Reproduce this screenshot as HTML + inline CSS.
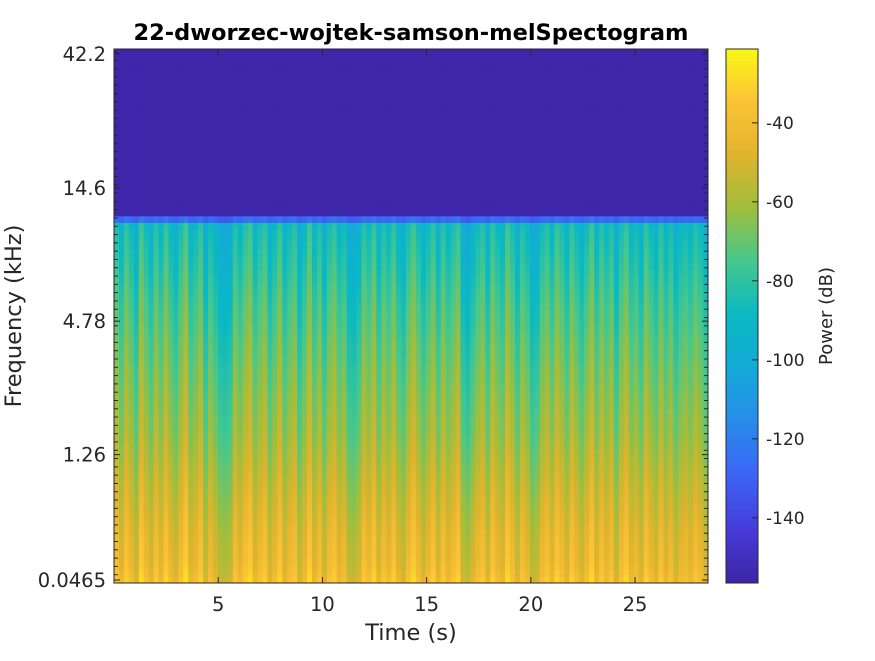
<!DOCTYPE html>
<html><head><meta charset="utf-8"><style>
body{margin:0;background:#fff;width:875px;height:656px;overflow:hidden;font-family:"Liberation Sans","DejaVu Sans",sans-serif}
svg text{font-family:"DejaVu Sans","Liberation Sans",sans-serif;fill:#262626}
</style></head><body>
<svg id="chart" width="875" height="656" viewBox="0 0 875 656" xmlns="http://www.w3.org/2000/svg">
<rect width="875" height="656" fill="#fff"/>
<text x="411" y="40" text-anchor="middle" font-size="22.5" font-weight="bold" style="fill:#000">22-dworzec-wojtek-samson-melSpectogram</text>
<g id="heat"></g>
<g id="cbar"></g>
<g id="axes"></g>
<text x="411" y="640" text-anchor="middle" font-size="22.5">Time (s)</text>
<text transform="translate(21,316) rotate(-90)" text-anchor="middle" font-size="22.5">Frequency (kHz)</text>
<text transform="translate(832,316) rotate(-90)" text-anchor="middle" font-size="18">Power (dB)</text>
</svg>
<script>
// ---- data ----
const timeRange = [0, 28.5];
const xTicks = [5, 10, 15, 20, 25];
const yTickKHz = [0.0465, 1.26, 4.78, 14.6, 42.2];
const yTickLabels = ["0.0465", "1.26", "4.78", "14.6", "42.2"];
const cTicks = [-40, -60, -80, -100, -120, -140];
const cRange = [-156.5, -21.3];
const melRange = [46.5, 4681];
// band mean power (dB), bottom to top, 80 mel bands
const bandPower = [-41,-43,-45,-46,-47,-47,-48,-49,-50,-51,-52,-53,-54,-55,-56,-57,-58,-59,-60,-61,
-62,-63,-64,-65,-65,-66,-67,-67,-68,-69,-70,-70,-71,-72,-73,-73,-74,-75,-76,-77,
-77,-78,-79,-80,-81,-82,-83,-84,-85,-86,-87,-88,-89,-91,-128,-156,-156,-156,-156,-156,
-156,-156,-156,-156,-156,-156,-156,-156,-156,-156,-156,-156,-156,-156,-156,-156,-156,-156,-156,-156];
// per-frame loudness offset (dB), 120 frames
const frameOffset = [4,-2,6,1,-5,8,2,-3,5,-1,7,0,-4,3,9,-2,1,6,-6,2,-3,-8,-9,-7,4,-1,5,8,-2,3,
6,-4,1,7,-3,2,5,-6,0,8,-2,4,-5,3,6,-1,2,-7,-8,-4,5,1,7,-3,4,0,6,-2,-5,3,
8,2,-4,1,6,-3,5,-1,3,7,-6,-9,-3,2,5,-4,6,1,-2,8,3,-5,4,0,-8,-6,2,5,-1,7,
3,-3,6,1,-4,2,8,-2,5,0,4,-6,3,7,-1,2,-4,6,1,-3,5,-2,3,-5,0,2,-1,4,1,-4];
// ---- scales ----
const P={x0:114,x1:708,y0:49,y1:583};
const NS="http://www.w3.org/2000/svg";
const xs=t=>P.x0+(t-timeRange[0])/(timeRange[1]-timeRange[0])*(P.x1-P.x0);
const mel=k=>2595*Math.log10(1+k*1000/700);
const ys=m=>P.y1-(m-melRange[0])/(melRange[1]-melRange[0])*(P.y1-P.y0);
const cy=v=>583-(v-cRange[0])/(cRange[1]-cRange[0])*534;
const parula=[[62,38,168],[70,60,220],[60,100,245],[40,140,235],[20,170,215],[10,185,195],[70,200,140],[160,190,60],[225,180,45],[252,195,55],[249,250,20]];
function col(v){let t=(v-cRange[0])/(cRange[1]-cRange[0]);t=Math.max(0,Math.min(1,t))*10;const i=Math.min(9,Math.floor(t)),f=t-i;const a=parula[i],b=parula[i+1];return `rgb(${a.map((c,k)=>Math.round(c+(b[k]-c)*f)).join(',')})`;}
function el(tag,attrs,parent){const e=document.createElementNS(NS,tag);for(const k in attrs)e.setAttribute(k,attrs[k]);parent.appendChild(e);return e;}
// ---- heatmap ----
const heat=document.getElementById('heat');
const nb=bandPower.length,nf=frameOffset.length;
const dm=(melRange[1]-melRange[0])/nb, dt=(timeRange[1]-timeRange[0])/nf;
for(let b=0;b<nb;b++){
  const ya=ys(melRange[0]+(b+1)*dm), yb=ys(melRange[0]+b*dm);
  for(let f=0;f<nf;f++){
    let v=bandPower[b];
    if(v>-150) v+=frameOffset[f]*(b>53?0.6:1.5);
    const xa=xs(timeRange[0]+f*dt), xb=xs(timeRange[0]+(f+1)*dt);
    const r=el('rect',{x:xa.toFixed(2),y:ya.toFixed(2),width:(xb-xa+0.4).toFixed(2),height:(yb-ya+0.4).toFixed(2),fill:col(v)},heat);
    
    
  }
}
// ---- colorbar ----
const cb=document.getElementById('cbar');
for(let i=0;i<134;i++){const v=cRange[0]+(cRange[1]-cRange[0])*i/134;el('rect',{x:726,y:(cy(v)-4.2).toFixed(2),width:32,height:4.4,fill:col(v)},cb);}
el('rect',{x:726,y:49,width:32,height:534,fill:'none',stroke:'#262626','stroke-width':1},cb);
cTicks.forEach(v=>{const y=cy(v);el('line',{x1:752,x2:758,y1:y,y2:y,stroke:'#262626'},cb);
 const t=el('text',{x:766,y:y+6,'font-size':17},cb);t.textContent=v;
 
 });
// ---- axes ----
const ax=document.getElementById('axes');
el('rect',{x:P.x0,y:P.y0,width:P.x1-P.x0,height:P.y1-P.y0,fill:'none',stroke:'#262626','stroke-width':1},ax);
xTicks.forEach(v=>{const x=xs(v);el('line',{x1:x,x2:x,y1:P.y1,y2:P.y1-6,stroke:'#262626'},ax);el('line',{x1:x,x2:x,y1:P.y0,y2:P.y0+6,stroke:'#262626'},ax);
 const t=el('text',{x:x,y:611,'text-anchor':'middle','font-size':19.5},ax);t.textContent=v;
 
 });
for(let m=melRange[0];m<=melRange[1];m+=72){const y=ys(m);el('line',{x1:P.x0,x2:P.x0+4,y1:y,y2:y,stroke:'#262626'},ax);el('line',{x1:P.x1,x2:P.x1-4,y1:y,y2:y,stroke:'#262626'},ax);}
yTickKHz.forEach((k,i)=>{const y=ys(mel(k));el('line',{x1:P.x0,x2:P.x0+6,y1:y,y2:y,stroke:'#262626'},ax);el('line',{x1:P.x1,x2:P.x1-6,y1:y,y2:y,stroke:'#262626'},ax);
 const t=el('text',{x:106,y:y+7,'text-anchor':'end','font-size':19.5},ax);t.textContent=yTickLabels[i];
 
 });
</script>
</body></html>
